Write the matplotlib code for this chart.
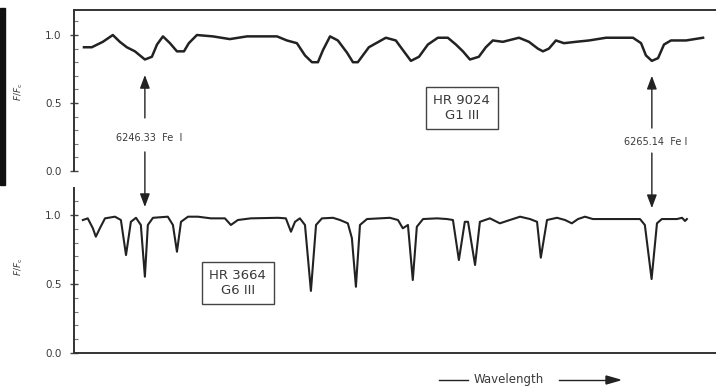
import matplotlib
matplotlib.use("Agg")
import matplotlib.pyplot as plt
from matplotlib.patches import Rectangle
from matplotlib.lines import Line2D

# ---------------- data ----------------
# HR 9024 (G1 III) : wavelength (A) and normalized flux
wl_top = [6244.07, 6244.36, 6244.77, 6245.14, 6245.40, 6245.66, 6245.96, 6246.33,
          6246.59, 6246.78, 6247.00, 6247.26, 6247.52, 6247.78, 6247.96, 6248.26,
          6248.85, 6249.48, 6250.12, 6251.23, 6251.60, 6251.97, 6252.27, 6252.53,
          6252.75, 6252.94, 6253.20, 6253.49, 6253.83, 6254.05, 6254.23, 6254.64,
          6255.27, 6255.64, 6255.90, 6256.20, 6256.50, 6256.83, 6257.20, 6257.57,
          6257.87, 6258.13, 6258.39, 6258.72, 6258.98, 6259.24, 6259.61, 6260.21,
          6260.58, 6260.91, 6261.10, 6261.32, 6261.58, 6261.88, 6262.32, 6262.81,
          6263.44, 6264.44, 6264.74, 6264.92, 6265.14, 6265.37, 6265.59, 6265.85,
          6266.41, 6267.04]
flux_top = [0.91, 0.91, 0.95, 1.00, 0.95, 0.91, 0.88, 0.82,
            0.84, 0.93, 0.99, 0.94, 0.88, 0.88, 0.94, 1.00,
            0.99, 0.97, 0.99, 0.99, 0.96, 0.94, 0.85, 0.80,
            0.80, 0.89, 0.99, 0.96, 0.87, 0.80, 0.80, 0.91,
            0.98, 0.96, 0.89, 0.81, 0.84, 0.93, 0.98, 0.98,
            0.93, 0.88, 0.82, 0.84, 0.91, 0.96, 0.95, 0.98,
            0.95, 0.90, 0.88, 0.90, 0.96, 0.94, 0.95, 0.96,
            0.98, 0.98, 0.94, 0.85, 0.81, 0.83, 0.93, 0.96,
            0.96, 0.98]

# HR 3664 (G6 III)
wl_bot = [6244.03, 6244.21, 6244.40, 6244.51, 6244.66, 6244.85, 6245.22, 6245.44,
          6245.63, 6245.81, 6246.00, 6246.18, 6246.33, 6246.44, 6246.63, 6247.18,
          6247.37, 6247.52, 6247.67, 6247.93, 6248.30, 6248.78, 6249.30, 6249.52,
          6249.78, 6250.26, 6251.27, 6251.56, 6251.75, 6251.90, 6252.08, 6252.27,
          6252.49, 6252.68, 6252.90, 6253.31, 6253.57, 6253.86, 6254.01, 6254.16,
          6254.31, 6254.57, 6255.42, 6255.72, 6255.90, 6256.09, 6256.27, 6256.42,
          6256.65, 6257.17, 6257.54, 6257.76, 6257.98, 6258.20, 6258.32, 6258.58,
          6258.76, 6259.13, 6259.50, 6259.87, 6260.25, 6260.62, 6260.88, 6261.02,
          6261.25, 6261.62, 6261.92, 6262.17, 6262.40, 6262.66, 6262.95, 6264.70,
          6264.88, 6265.13, 6265.33, 6265.51, 6266.07, 6266.26, 6266.37, 6266.44]
flux_bot = [0.964, 0.976, 0.904, 0.843, 0.904, 0.976, 0.988, 0.964,
            0.710, 0.951, 0.980, 0.928, 0.553, 0.928, 0.980, 0.988,
            0.928, 0.734, 0.951, 0.988, 0.988, 0.976, 0.976, 0.928,
            0.964, 0.976, 0.980, 0.976, 0.879, 0.951, 0.976, 0.928,
            0.450, 0.928, 0.976, 0.980, 0.964, 0.940, 0.833, 0.480,
            0.928, 0.971, 0.980, 0.964, 0.904, 0.928, 0.529, 0.915,
            0.971, 0.976, 0.971, 0.964, 0.674, 0.951, 0.951, 0.638,
            0.951, 0.976, 0.940, 0.964, 0.988, 0.971, 0.951, 0.691,
            0.964, 0.980, 0.964, 0.940, 0.971, 0.988, 0.971, 0.971,
            0.928, 0.536, 0.940, 0.971, 0.971, 0.980, 0.957, 0.971]

marked_lines = [6246.33, 6265.14]
marked_labels = ["6246.33  Fe  I", "6265.14  Fe I"]
star_top = "HR 9024\nG1 III"
star_bot = "HR 3664\nG6 III"
yticks = [0.0, 0.5, 1.0]
ytick_labels = ["0.0", "0.5", "1.0"]

# ---------------- figure ----------------
W, H = 716, 387
fig = plt.figure(figsize=(W / 100, H / 100), dpi=100)
ink = "#222222"
txt = "#3a3a3a"

def fx(px):
    return px / W

def fy(py):
    return 1 - py / H

xlim = (6243.70, 6267.52)

ax_top = fig.add_axes([fx(74), fy(171), fx(716 - 74), (171 - 10) / H])
ax_bot = fig.add_axes([fx(74), fy(353), fx(716 - 74), (353 - 188) / H])

for ax, ytop in ((ax_top, 1.184), (ax_bot, 1.196)):
    ax.set_xlim(*xlim)
    ax.set_ylim(0, ytop)
    ax.set_yticks(yticks)
    ax.set_yticklabels(ytick_labels)
    ax.set_yticks([i / 10 for i in range(0, 12)], minor=True)
    ax.set_xticks([])
    ax.tick_params(axis="y", which="major", direction="inout", length=6,
                   width=1.0, color="#444444", labelsize=7.5, labelcolor=txt, pad=6)
    ax.tick_params(axis="y", which="minor", direction="in", length=3,
                   width=0.8, color="#777777")
    ax.spines["right"].set_visible(False)
    for s in ax.spines.values():
        s.set_linewidth(1.4)
        s.set_color("#333333")
    ax.set_ylabel(r"$F/F_{\rm c}$", fontsize=6.5, color=txt)
    ax.patch.set_alpha(0)

ax_top.spines["bottom"].set_visible(False)
ax_bot.spines["top"].set_visible(False)
ax_top.yaxis.set_label_coords(-0.076, 0.49)
ax_bot.yaxis.set_label_coords(-0.076, 0.52)

ax_top.plot(wl_top, flux_top, color=ink, lw=1.8, solid_joinstyle="round")
ax_bot.plot(wl_bot, flux_bot, color=ink, lw=1.5, solid_joinstyle="round")

# star boxes
box = dict(boxstyle="square,pad=0.55", fc="white", ec="#444444", lw=1.0)
ax_top.text(6258.09, 0.463, star_top, ha="center", va="center", fontsize=9.5,
            color=txt, bbox=box, linespacing=1.15)
ax_bot.text(6249.78, 0.507, star_bot, ha="center", va="center", fontsize=9.5,
            color=txt, bbox=box, linespacing=1.15)

# marked Fe I lines: up-arrow to top spectrum, down-arrow to bottom spectrum
arrow_kw = dict(arrowstyle="-|>,head_length=0.8,head_width=0.3", color=ink,
                lw=1.0, shrinkA=0, shrinkB=0)
geo = [(0.706, 0.39, 0.243, 0.14, 1.058),
       (0.700, 0.316, 0.213, 0.132, 1.050)]
for wl, lab, (tip_up, start_up, ylab, start_dn, tip_dn) in zip(marked_lines, marked_labels, geo):
    ax_top.annotate("", xy=(wl, tip_up), xytext=(wl, start_up),
                    xycoords="data", textcoords="data",
                    arrowprops=arrow_kw, annotation_clip=False)
    ax_top.annotate("", xy=(wl, tip_dn), xycoords=ax_bot.transData,
                    xytext=(wl, start_dn), textcoords=ax_top.transData,
                    arrowprops=arrow_kw, annotation_clip=False)
    ax_top.text(wl + 0.15, ylab, lab, ha="center", va="center", fontsize=7,
                color=txt)

# wavelength direction label
fig.text(fx(509), fy(380), "Wavelength", ha="center", va="center",
         fontsize=8.5, color=txt)
fig.add_artist(Line2D([fx(439), fx(468)], [fy(380), fy(380)],
                      transform=fig.transFigure, color=ink, lw=1.0))
fig.add_artist(Line2D([fx(559), fx(610)], [fy(380), fy(380)],
                      transform=fig.transFigure, color=ink, lw=1.0))
fig.patches.append(plt.Polygon([[fx(606), fy(376)], [fx(620), fy(380)], [fx(606), fy(384)]],
                               closed=True, transform=fig.transFigure,
                               color=ink, figure=fig))

# dark scan edge at the far left
fig.patches.append(Rectangle((0, fy(185)), fx(5), (185 - 8) / H,
                             transform=fig.transFigure, color="#111111", figure=fig))

fig.savefig("out.png", dpi=100)
